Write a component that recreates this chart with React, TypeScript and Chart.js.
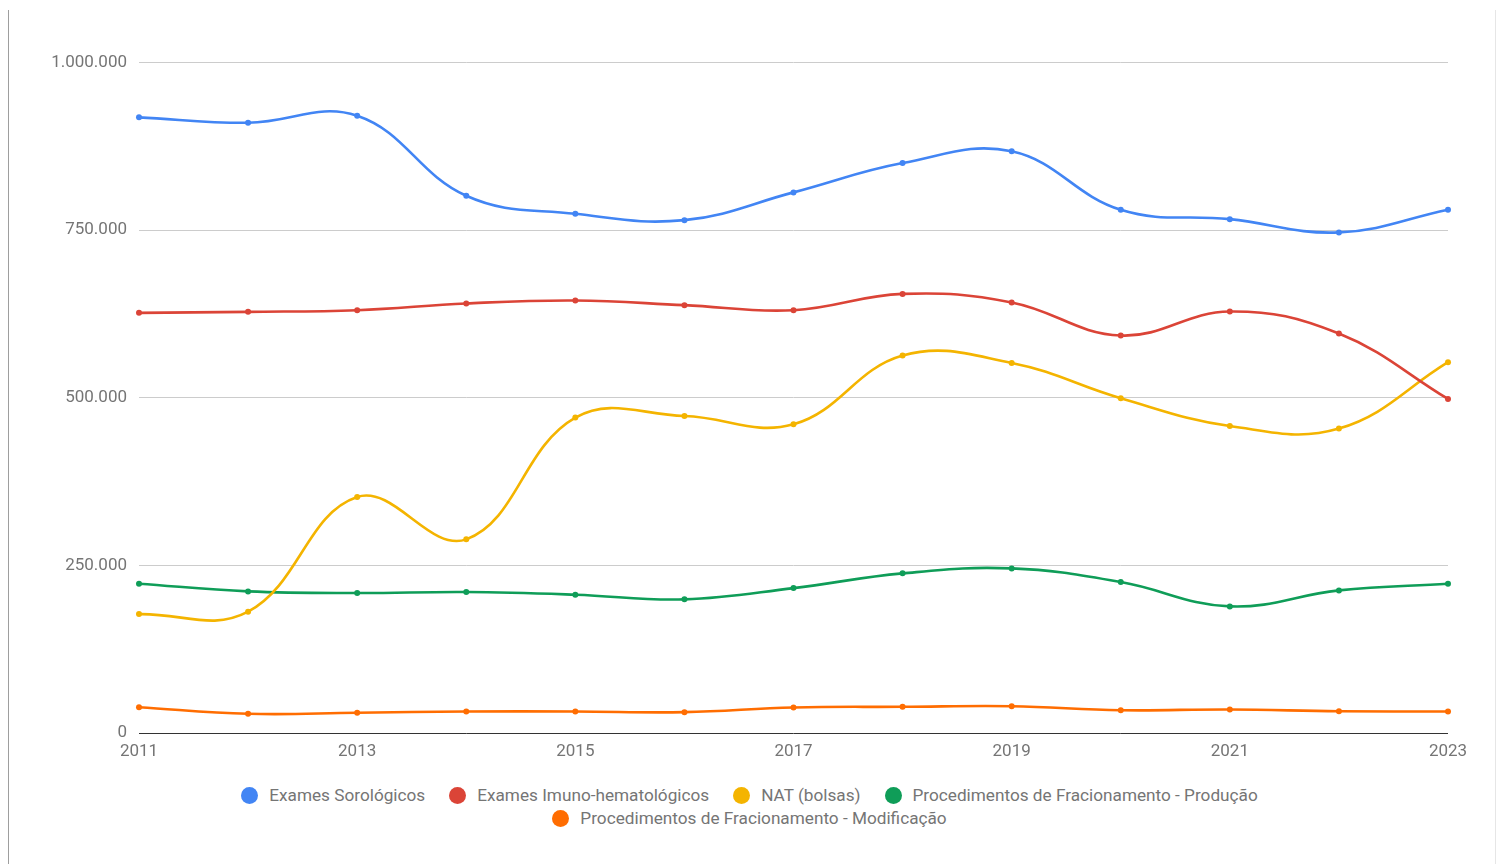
import React, { useEffect, useRef } from "react";
import { Chart, registerables } from "chart.js";

Chart.register(...registerables);

const years = ["2011", "2012", "2013", "2014", "2015", "2016", "2017", "2018", "2019", "2020", "2021", "2022", "2023"];

const examesSorologicos = [918200, 910100, 920600, 801200, 774300, 764900, 806300, 850000, 867500, 780300, 766400, 746600, 780300];
const examesImuno = [626600, 628100, 630600, 640600, 645100, 638100, 630600, 654900, 642100, 592800, 628700, 595800, 498200];
const natBolsas = [177300, 180900, 352000, 288800, 470400, 472800, 460400, 563000, 551900, 499300, 457900, 454000, 553000];
const fracProducao = [222700, 211200, 208700, 210200, 206300, 199300, 216100, 238100, 245500, 225100, 188800, 212700, 222700];
const fracModificacao = [38500, 28600, 30100, 32100, 32100, 31100, 38100, 39100, 40000, 34000, 35100, 32500, 32100];

const seriesNames = [
  "Exames Sorológicos",
  "Exames Imuno-hematológicos",
  "NAT (bolsas)",
  "Procedimentos de Fracionamento - Produção",
  "Procedimentos de Fracionamento - Modificação",
];
const seriesColors = ["#4285F4", "#DB4437", "#F4B400", "#0F9D58", "#FF6D01"];
const seriesData = [examesSorologicos, examesImuno, natBolsas, fracProducao, fracModificacao];

const yTicks = [0, 250000, 500000, 750000, 1000000];

const FONT = "Roboto, 'Noto Sans', sans-serif";
const TEXT_COLOR = "#757575";

function fmt(v: number): string {
  return String(Math.round(v)).replace(/\B(?=(\d{3})+(?!\d))/g, ".");
}

export default function App() {
  const canvasRef = useRef<HTMLCanvasElement | null>(null);

  useEffect(() => {
    if (!canvasRef.current) return;
    const chart = new Chart(canvasRef.current, {
      type: "line",
      data: {
        labels: years,
        datasets: seriesNames.map((name, i) => ({
          label: name,
          data: seriesData[i],
          borderColor: seriesColors[i],
          backgroundColor: seriesColors[i],
          borderWidth: 2.6,
          pointRadius: 3,
          pointBorderWidth: 0,
          pointBackgroundColor: seriesColors[i],
          tension: 0.4,
          fill: false,
        })),
      },
      options: {
        animation: false,
        responsive: false,
        maintainAspectRatio: false,
        layout: { padding: { left: 0, right: 51, top: 62.5, bottom: 0 } },
        plugins: {
          legend: { display: false },
          tooltip: { enabled: false },
        },
        scales: {
          x: {
            type: "category",
            offset: false,
            grid: { display: false, drawTicks: false },
            border: { display: false },
            ticks: {
              autoSkip: false,
              maxRotation: 0,
              padding: 9,
              color: TEXT_COLOR,
              font: { family: FONT, size: 17 },
              callback: (_v: any, idx: number) => (idx % 2 === 0 ? years[idx] : ""),
            },
            afterFit: (scale: any) => {
              scale.height = 30;
            },
          },
          y: {
            min: 0,
            max: 1000000,
            afterBuildTicks: (scale: any) => {
              scale.ticks = yTicks.map((v) => ({ value: v }));
            },
            grid: {
              drawTicks: false,
              color: (ctx: any) => (ctx.tick && ctx.tick.value === 0 ? "#333333" : "#cccccc"),
              lineWidth: 1,
            },
            border: { display: false },
            ticks: {
              padding: 12,
              color: TEXT_COLOR,
              font: { family: FONT, size: 17 },
              callback: (v: any) => fmt(Number(v)),
            },
            afterFit: (scale: any) => {
              scale.width = 139;
            },
          },
        },
      },
    });
    return () => chart.destroy();
  }, []);

  return (
    <div style={{ position: "fixed", left: 0, top: 0, width: 1499, height: 864, overflow: "hidden", background: "#fff" }}>
      <div style={{ position: "absolute", left: 8, top: 10, width: 1, height: 854, background: "#9e9e9e" }} />
      <div style={{ position: "absolute", left: 1495, top: 10, width: 1, height: 854, background: "#e6e6e6" }} />
      <canvas
        ref={canvasRef}
        width={1499}
        height={763}
        style={{ position: "absolute", left: 0, top: 0, width: 1499, height: 763 }}
      />
      <div
        style={{
          position: "absolute",
          left: 199.5,
          top: 786,
          width: 1100,
          display: "flex",
          flexWrap: "wrap",
          justifyContent: "center",
          columnGap: 24,
          rowGap: 4,
          fontFamily: FONT,
          fontSize: 17.2,
          color: TEXT_COLOR,
        }}
      >
        {seriesNames.map((name, i) => (
          <div key={name} style={{ display: "flex", alignItems: "center", height: 19, whiteSpace: "nowrap" }}>
            <span
              style={{
                display: "inline-block",
                width: 17,
                height: 17,
                borderRadius: "50%",
                background: seriesColors[i],
                marginRight: 11,
              }}
            />
            <span style={{ lineHeight: "19px" }}>{name}</span>
          </div>
        ))}
      </div>
    </div>
  );
}
